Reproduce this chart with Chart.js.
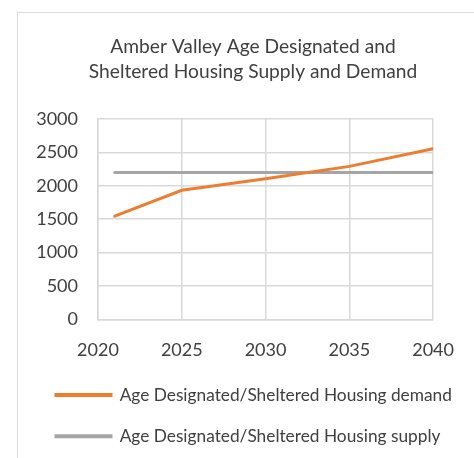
<!DOCTYPE html>
<html>
<head>
<meta charset="utf-8">
<script src="https://cdn.jsdelivr.net/npm/chart.js@4/dist/chart.umd.min.js"></script>
<style>
  html, body { margin: 0; padding: 0; background: #fff; overflow: hidden; }
  #wrap { position: relative; width: 474px; height: 458px; }
  #frame { position: absolute; left: 17px; top: 12px; width: 500px; height: 500px; border: 1px solid #d9d9d9; box-sizing: border-box; }
  canvas { position: absolute; left: 0; top: 0; }
</style>
</head>
<body>
<div id="wrap">
  <div id="frame"></div>
  <canvas id="c" width="474" height="458"></canvas>
</div>
<script>
const titleLines = ['Amber Valley Age Designated and', 'Sheltered Housing Supply and Demand'];
const years = [2021, 2025, 2030, 2035, 2040];
const demand = [1545, 1932, 2106, 2290, 2553];
const supply = [2200, 2200, 2200, 2200, 2200];
const seriesNames = ['Age Designated/Sheltered Housing demand', 'Age Designated/Sheltered Housing supply'];
const xTicks = [2020, 2025, 2030, 2035, 2040];
const yTicks = [0, 500, 1000, 1500, 2000, 2500, 3000];

const FONT = 'Lato, "Open Sans", sans-serif';
const textColor = '#404040';

new Chart(document.getElementById('c'), {
  type: 'line',
  data: {
    datasets: [
      {
        label: seriesNames[0],
        data: years.map((y, i) => ({ x: y, y: demand[i] })),
        borderColor: '#ED7D31',
        backgroundColor: '#ED7D31',
        borderWidth: 3,
        pointRadius: 0,
        tension: 0,
        borderCapStyle: 'round'
      },
      {
        label: seriesNames[1],
        data: years.map((y, i) => ({ x: y, y: supply[i] })),
        borderColor: '#A5A5A5',
        backgroundColor: '#A5A5A5',
        borderWidth: 3,
        pointRadius: 0,
        tension: 0,
        borderCapStyle: 'round'
      }
    ]
  },
  options: {
    responsive: false,
    animation: false,
    layout: { padding: { left: 32, right: 0, top: 34, bottom: 3 } },
    plugins: {
      tooltip: { enabled: false },
      title: {
        display: true,
        text: titleLines,
        color: textColor,
        font: { family: FONT, size: 19.2, weight: 'normal', lineHeight: 1.3 },
        padding: { top: 0, bottom: 35 }
      },
      legend: {
        position: 'bottom',
        align: 'start',
        labels: {
          boxWidth: 55,
          boxHeight: 1,
          padding: 24,
          color: textColor,
          font: { family: FONT, size: 17.3 }
        }
      }
    },
    scales: {
      x: {
        type: 'linear',
        min: 2020,
        max: 2040,
        afterBuildTicks: s => { s.ticks = xTicks.map(v => ({ value: v })); },
        afterFit: s => { s.height = 43; },
        grid: { color: '#d9d9d9', lineWidth: 1.5, drawTicks: false },
        border: { color: '#d9d9d9', width: 1.5 },
        ticks: {
          color: textColor,
          font: { family: FONT, size: 18 },
          padding: 20,
          maxRotation: 0,
          callback: v => String(v)
        }
      },
      y: {
        min: 0,
        max: 3000,
        afterBuildTicks: s => { s.ticks = yTicks.map(v => ({ value: v })); },
        afterFit: s => { s.width = 66; },
        grid: { color: '#d9d9d9', lineWidth: 1.5, drawTicks: false },
        border: { color: '#d9d9d9', width: 1.5 },
        ticks: {
          color: textColor,
          font: { family: FONT, size: 18 },
          padding: 20,
          callback: v => String(v)
        }
      },
      yRight: {
        position: 'right',
        min: 0,
        max: 3000,
        afterFit: s => { s.width = 38; },
        grid: { display: false },
        border: { display: false },
        ticks: { display: false }
      }
    }
  }
});
</script>
</body>
</html>
